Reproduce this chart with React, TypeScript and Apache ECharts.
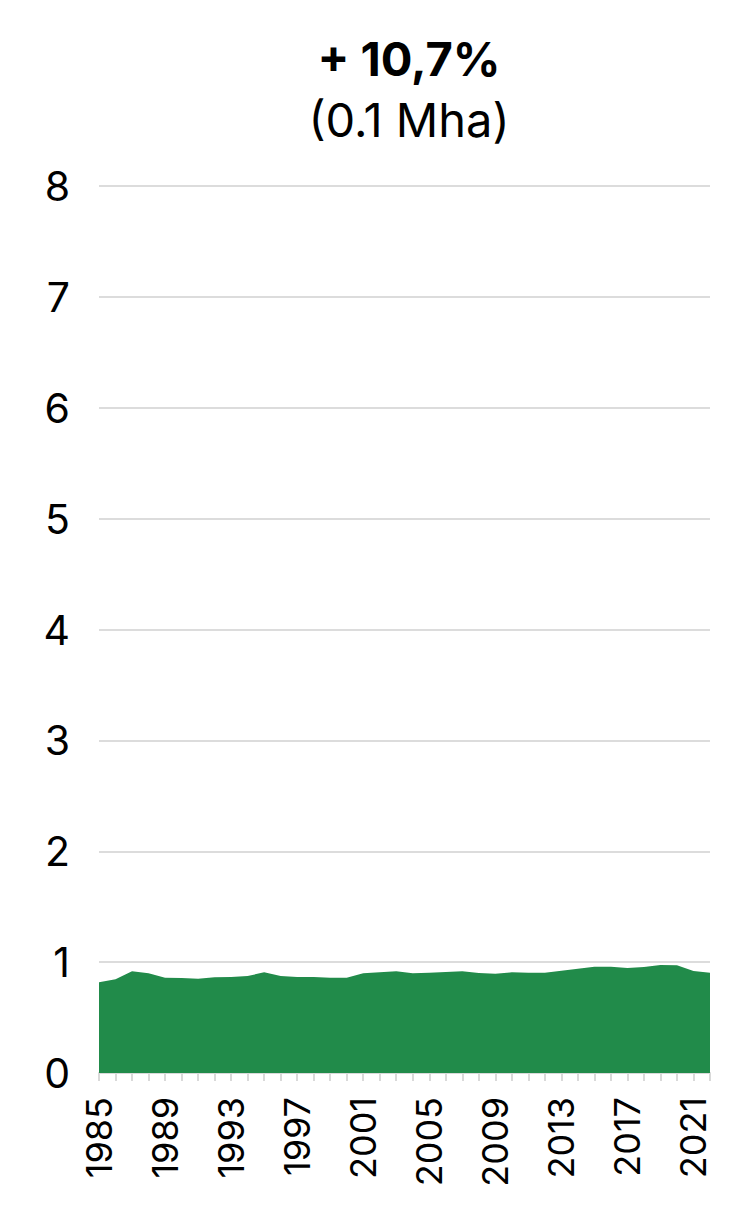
import React, { useEffect, useRef } from "react";
import * as echarts from "echarts";

const years: string[] = [];
for (let y = 1985; y <= 2022; y++) years.push(String(y));

const areaValues = [
  0.818, 0.845, 0.917, 0.899, 0.86, 0.857, 0.85, 0.863, 0.866, 0.875,
  0.908, 0.875, 0.866, 0.866, 0.86, 0.86, 0.899, 0.908, 0.917, 0.899,
  0.905, 0.911, 0.917, 0.902, 0.896, 0.908, 0.905, 0.905, 0.923, 0.94,
  0.959, 0.959, 0.946, 0.955, 0.974, 0.972, 0.92, 0.905,
];

const titleText = "+ 10,7%";
const subtitleText = "(0.1 Mha)";

const FONT = "Inter, 'Noto Sans', sans-serif";

export default function App() {
  const ref = useRef<HTMLDivElement>(null);
  useEffect(() => {
    if (!ref.current) return;
    const chart = echarts.init(ref.current, null, { renderer: "svg" });
    chart.setOption({
      animation: false,
      title: [
        {
          text: titleText,
          left: 404,
          top: 30,
          textAlign: "center",
          textStyle: { fontFamily: FONT, fontSize: 47, fontWeight: "bold", color: "#000", lineHeight: 46 },
        },
        {
          text: subtitleText,
          left: 404,
          top: 91,
          textAlign: "center",
          textStyle: { fontFamily: FONT, fontSize: 47, fontWeight: "normal", color: "#000", lineHeight: 46 },
        },
      ],
      grid: { left: 99, right: 34, top: 186, bottom: 138, containLabel: false },
      xAxis: {
        type: "category",
        data: years,
        boundaryGap: false,
        axisLine: { show: true, lineStyle: { color: "#d9d9d9", width: 2 } },
        axisTick: { show: true, interval: 0, length: 8, lineStyle: { color: "#d9d9d9", width: 2 } },
        axisLabel: {
          interval: 3,
          rotate: 90,
          margin: 24,
          fontFamily: FONT,
          fontSize: 36,
          color: "#000",
        },
        splitLine: { show: false },
      },
      yAxis: {
        type: "value",
        min: 0,
        max: 8,
        interval: 1,
        axisLine: { show: false },
        axisTick: { show: false },
        axisLabel: { margin: 29, fontFamily: FONT, fontSize: 41, color: "#000" },
        splitLine: { show: true, lineStyle: { color: "#dcdcdc", width: 2 } },
      },
      series: [
        {
          type: "line",
          data: areaValues,
          symbol: "none",
          lineStyle: { width: 0 },
          areaStyle: { color: "#218b4a", opacity: 1 },
          itemStyle: { color: "#218b4a" },
          z: 3,
        },
      ],
    });
    return () => chart.dispose();
  }, []);
  return (
    <div
      ref={ref}
      style={{ position: "fixed", left: 0, top: 0, width: 744, height: 1211, background: "#fff" }}
    />
  );
}
